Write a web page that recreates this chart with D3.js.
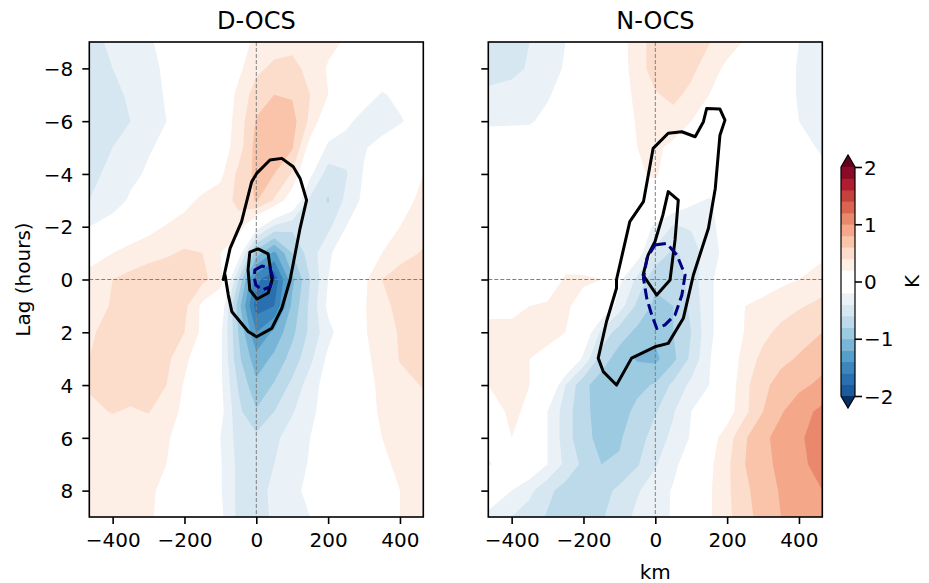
<!DOCTYPE html>
<html>
<head>
<meta charset="utf-8">
<script src="https://cdn.jsdelivr.net/npm/d3@7"></script>
<style>
  body { margin: 0; background: #fff; }
  text { font-family: "DejaVu Sans", sans-serif; fill: #000; }
</style>
</head>
<body>
<svg id="chart" width="929" height="583"></svg>
<script>
// grid coordinates of the anomaly fields
var kmCols = [-465, -400, -350, -300, -250, -200, -150, -100, -50, 0, 50, 100, 150, 200, 250, 300, 350, 400, 465];
var lagRows = [-9, -8, -7, -6, -5, -4, -3, -2, -1, 0, 1, 2, 3, 4, 5, 6, 7, 8, 9];

// contour levels (K) and their fill colours
var levels = [-2, -1.8, -1.6, -1.4, -1.2, -1, -0.8, -0.6, -0.4, -0.2, 0.2, 0.4, 0.6, 0.8, 1, 1.2, 1.4, 1.6, 1.8, 2];
var bandColors = ['#1b5a9b', '#2a6fb0', '#3a86bd', '#559fca', '#78b5d6', '#9ccae1', '#bcdaea', '#d6e7f1', '#eaf2f7',
                  '#ffffff', '#fdeee6', '#fcddcb', '#f9c4a9', '#f4a889', '#e9886c', '#d9654f', '#c6403d', '#b01d2e', '#8a0b25'];
var underColor = '#053061', overColor = '#67001f';
var cbarTicks = [-2, -1, 0, 1, 2];
var xTicks = [-400, -200, 0, 200, 400];
var yTicks = [-8, -6, -4, -2, 0, 2, 4, 6, 8];

// D-OCS temperature anomaly, one row per lag
var docsAnom = [
  [-0.45,-0.37,-0.3,-0.22,-0.15,-0.05,0,0.05,0.1,0.25,0.3,0.35,0.3,0.25,0.18,0.05,0,-0.05,-0.05],
  [-0.5,-0.4,-0.33,-0.25,-0.17,-0.08,0,0.05,0.15,0.35,0.45,0.45,0.35,0.18,0.08,0,-0.05,-0.05,-0.05],
  [-0.55,-0.45,-0.37,-0.28,-0.18,-0.1,-0.02,0.02,0.25,0.5,0.6,0.58,0.4,0.2,0.05,-0.1,-0.22,-0.15,-0.05],
  [-0.55,-0.48,-0.4,-0.3,-0.2,-0.1,-0.02,0.05,0.28,0.62,0.72,0.68,0.35,0,-0.15,-0.28,-0.3,-0.22,-0.1],
  [-0.5,-0.4,-0.33,-0.22,-0.15,-0.08,0,0.08,0.3,0.68,0.7,0.62,0.1,-0.25,-0.3,-0.22,-0.12,-0.05,0],
  [-0.45,-0.35,-0.25,-0.17,-0.1,-0.03,0.05,0.15,0.45,0.65,0.6,0.38,-0.15,-0.5,-0.42,-0.18,-0.05,0.08,0.2],
  [-0.4,-0.3,-0.17,-0.1,-0.02,0.12,0.25,0.3,0.45,0.62,0.38,0.05,-0.45,-0.62,-0.35,-0.15,0,0.12,0.25],
  [-0.2,-0.1,0,0.12,0.22,0.3,0.35,0.38,0.32,-0.1,-0.45,-0.55,-0.55,-0.45,-0.2,-0.05,0.08,0.2,0.32],
  [0.1,0.2,0.3,0.35,0.38,0.42,0.4,0.2,-0.05,-0.9,-1.25,-0.8,-0.5,-0.25,-0.02,0.08,0.2,0.32,0.42],
  [0.28,0.4,0.45,0.48,0.5,0.48,0.45,0.3,-0.6,-1.55,-1.75,-1.05,-0.6,-0.2,0.05,0.15,0.4,0.5,0.55],
  [0.3,0.42,0.5,0.52,0.5,0.45,0.15,0,-0.9,-1.7,-1.6,-0.95,-0.55,-0.15,0.05,0.18,0.35,0.45,0.5],
  [0.38,0.45,0.5,0.5,0.48,0.4,0.15,-0.15,-0.8,-1.4,-1.15,-0.85,-0.55,-0.27,-0.05,0.18,0.3,0.42,0.5],
  [0.4,0.48,0.5,0.48,0.45,0.25,0.05,-0.15,-0.75,-1.12,-0.95,-0.72,-0.45,-0.15,0,0.15,0.28,0.41,0.48],
  [0.42,0.48,0.48,0.45,0.4,0.18,0.05,-0.15,-0.62,-0.95,-0.78,-0.55,-0.3,-0.1,0,0.12,0.25,0.35,0.41],
  [0.36,0.41,0.38,0.41,0.3,0.15,0.05,-0.12,-0.55,-0.78,-0.6,-0.42,-0.25,-0.1,0,0.12,0.23,0.3,0.35],
  [0.3,0.3,0.3,0.28,0.22,0.12,0,-0.2,-0.48,-0.55,-0.45,-0.3,-0.2,-0.08,0,0.1,0.2,0.25,0.3],
  [0.28,0.28,0.27,0.25,0.2,0.1,0,-0.18,-0.45,-0.5,-0.4,-0.3,-0.18,-0.05,0,0.05,0.15,0.25,0.28],
  [0.25,0.25,0.25,0.22,0.17,0.08,0,-0.18,-0.45,-0.48,-0.35,-0.25,-0.15,-0.05,0,0.03,0.1,0.2,0.28],
  [0.25,0.25,0.25,0.22,0.15,0.05,0,-0.15,-0.45,-0.45,-0.38,-0.25,-0.2,-0.05,0,0,0.08,0.2,0.25]
];

// N-OCS temperature anomaly
var nocsAnom = [
  [-0.48,-0.45,-0.4,-0.3,-0.2,-0.1,-0.02,0.1,0.32,0.48,0.48,0.45,0.41,0.3,0.18,0.05,-0.05,-0.2,-0.25],
  [-0.5,-0.45,-0.38,-0.28,-0.18,-0.1,-0.02,0.1,0.3,0.5,0.5,0.45,0.3,0.15,0.05,-0.02,-0.1,-0.22,-0.28],
  [-0.35,-0.33,-0.3,-0.22,-0.12,-0.05,0,0.1,0.25,0.38,0.45,0.35,0.2,0.08,0,-0.05,-0.1,-0.22,-0.28],
  [-0.22,-0.22,-0.22,-0.15,-0.08,-0.03,0,0.08,0.22,0.3,0.32,0.2,0.1,0.05,0,-0.03,-0.08,-0.2,-0.24],
  [-0.12,-0.1,-0.08,-0.05,-0.03,0,0,0.05,0.2,0.24,0.15,0.08,0.03,0,0,-0.02,-0.05,-0.15,-0.22],
  [-0.05,-0.05,-0.03,0,0,0,0,0.05,0.18,0.22,0.1,0,-0.02,0,0,0,-0.02,-0.1,-0.16],
  [0,0,0,0,0,0,0,0.05,0.1,0.12,0,-0.15,-0.22,-0.1,0,0,0,0,0],
  [0,0,0,0,0.05,0.05,0.05,0.05,0,-0.25,-0.42,-0.38,-0.25,-0.12,-0.02,0,0,0.02,0.05],
  [0,0,0.02,0.08,0.12,0.1,0.15,0.08,-0.1,-0.45,-0.65,-0.5,-0.3,-0.12,-0.02,0,0.05,0.1,0.15],
  [0,0,0.02,0.1,0.22,0.22,0.2,-0.15,-0.45,-0.75,-0.78,-0.5,-0.25,-0.05,0.05,0.1,0.15,0.2,0.3],
  [0.18,0.18,0.2,0.22,0.22,0.15,0.05,-0.3,-0.65,-0.85,-0.8,-0.55,-0.25,-0.05,0.2,0.25,0.32,0.38,0.45],
  [0.22,0.22,0.22,0.22,0.2,0,-0.45,-0.7,-0.85,-0.95,-0.8,-0.6,-0.25,-0.05,0.22,0.35,0.45,0.52,0.6],
  [0.2,0.2,0.2,0.18,0.15,-0.25,-0.7,-0.9,-1.02,-1.05,-0.85,-0.55,-0.22,0.02,0.3,0.45,0.55,0.62,0.72],
  [0.2,0.22,0.2,0.1,-0.4,-0.75,-0.9,-0.92,-0.85,-0.78,-0.55,-0.35,-0.2,0.05,0.35,0.55,0.68,0.75,0.85],
  [0.15,0.22,0.18,-0.2,-0.5,-0.75,-0.88,-0.88,-0.75,-0.62,-0.42,-0.2,-0.05,0.1,0.35,0.6,0.78,0.92,1.05],
  [0.1,0.2,0.05,-0.2,-0.5,-0.75,-0.85,-0.82,-0.7,-0.5,-0.35,-0.18,0.1,0.3,0.58,0.75,0.88,0.97,1.1],
  [0.22,0.1,0,-0.2,-0.45,-0.65,-0.8,-0.78,-0.62,-0.42,-0.25,-0.08,0.15,0.36,0.6,0.74,0.85,0.95,1.08],
  [-0.05,-0.2,-0.35,-0.55,-0.68,-0.72,-0.68,-0.55,-0.42,-0.3,-0.18,-0.02,0.17,0.36,0.56,0.7,0.82,0.9,1],
  [-0.25,-0.4,-0.5,-0.62,-0.7,-0.7,-0.62,-0.5,-0.35,-0.28,-0.18,0,0.17,0.35,0.53,0.68,0.8,0.88,0.95]
];

// overlaid contour lines as [km, lag] vertices
var docsOuter = [[-92,0],[-73,-1.18],[-41,-2.19],[-13,-3.7],[1,-4.02],[38,-4.53],[71,-4.59],[103,-4.27],[122,-3.83],
  [140,-3.01],[122,-1.95],[94,0.02],[71,1.09],[43,1.85],[1,2.17],[-22,1.98],[-68,1.22],[-78,0.59],[-87,-0.17]];
var docsInner = [[-18,-1.04],[5,-1.16],[33,-0.97],[44,0.02],[33,0.51],[2,0.74],[-18,0.4],[-23,-0.36]];
var docsDashed = [[-4,-0.36],[16,-0.51],[38,-0.44],[46,-0.06],[38,0.28],[16,0.4],[-1,0.21],[-6,-0.09]];
var nocsOuter = [[-108,0],[-71,-2.19],[-33,-2.95],[-6,-4.97],[36,-5.54],[74,-5.6],[111,-5.41],[134,-5.98],[143,-6.48],
  [180,-6.46],[194,-6.04],[180,-5.47],[167,-3.45],[148,-1.94],[106,-0.17],[78,1.47],[36,2.42],[-1,2.55],[-66,2.98],
  [-108,4.0],[-145,3.49],[-159,2.98],[-136,1.6],[-108,0.33]];
var nocsInner = [[36,-3.33],[64,-3.01],[55,-1.5],[41,0.02],[4,0.59],[-34,-0.17],[-20,-0.93],[-1,-1.43],[21,-2.44]];
var nocsDashed = [[-1,-1.31],[32,-1.37],[60,-0.93],[83,-0.17],[74,0.59],[55,1.34],[27,1.72],[4,1.85],[-10,1.34],
  [-24,0.7],[-33,-0.05],[-23,-0.81]];

var svg = d3.select('#chart');
var plotTop = 42, plotBottom = 517, plotW = 334;
var nx = kmCols.length, ny = lagRows.length;
var colIdx = d3.scaleLinear().domain(d3.range(nx)).range(kmCols);
var rowIdx = d3.scaleLinear().domain(d3.range(ny)).range(lagRows);

var panels = [
  {title: 'D-OCS', left: 89.3, field: docsAnom, solid: [docsOuter, docsInner], dashed: [docsDashed], ylabels: true, xlabel: false},
  {title: 'N-OCS', left: 488.3, field: nocsAnom, solid: [nocsOuter, nocsInner], dashed: [nocsDashed], ylabels: false, xlabel: true}
];

panels.forEach(function(p, n) {
  var x = d3.scaleLinear().domain([-465, 465]).range([p.left, p.left + plotW]);
  var y = d3.scaleLinear().domain([-9, 9]).range([plotTop, plotBottom]);
  var g = svg.append('g');

  g.append('clipPath').attr('id', 'clip' + n)
    .append('rect').attr('x', p.left).attr('y', plotTop).attr('width', plotW).attr('height', plotBottom - plotTop);

  // grid coords from d3.contours -> km/lag -> pixels
  var path = d3.geoPath(d3.geoTransform({
    point: function(cx, cy) {
      var i = Math.max(0, Math.min(nx - 1, cx - 0.5));
      var j = Math.max(0, Math.min(ny - 1, cy - 0.5));
      this.stream.point(x(colIdx(i)), y(rowIdx(j)));
    }
  }));
  var contours = d3.contours().size([nx, ny]).thresholds(levels)(p.field.flat());

  var fills = g.append('g').attr('clip-path', 'url(#clip' + n + ')');
  fills.append('rect').attr('x', p.left).attr('y', plotTop).attr('width', plotW).attr('height', plotBottom - plotTop)
    .attr('fill', underColor);
  fills.selectAll('path').data(contours).enter().append('path')
    .attr('d', path)
    .attr('fill', function(d, k) { return k < bandColors.length ? bandColors[k] : overColor; });

  // zero lines
  g.append('line').attr('x1', x(0)).attr('x2', x(0)).attr('y1', plotTop).attr('y2', plotBottom)
    .attr('stroke', '#808080').attr('stroke-width', 1).attr('stroke-dasharray', '4,2');
  g.append('line').attr('x1', p.left).attr('x2', p.left + plotW).attr('y1', y(0)).attr('y2', y(0))
    .attr('stroke', '#808080').attr('stroke-width', 1).attr('stroke-dasharray', '4,2');

  var line = d3.line().x(function(d) { return x(d[0]); }).y(function(d) { return y(d[1]); }).curve(d3.curveLinearClosed);
  g.selectAll('path.solid').data(p.solid).enter().append('path').attr('class', 'solid')
    .attr('d', line).attr('fill', 'none').attr('stroke', '#000').attr('stroke-width', 3).attr('stroke-linejoin', 'round');
  g.selectAll('path.dash').data(p.dashed).enter().append('path').attr('class', 'dash')
    .attr('d', line).attr('fill', 'none').attr('stroke', '#000080').attr('stroke-width', 3).attr('stroke-dasharray', '11,5');

  // axes
  var xAxis = g.append('g').attr('transform', 'translate(0,' + plotBottom + ')')
    .call(d3.axisBottom(x).tickValues(xTicks).tickSize(7).tickPadding(9));
  var yAxis = g.append('g').attr('transform', 'translate(' + p.left + ',0)')
    .call(d3.axisLeft(y).tickValues(yTicks).tickSize(7).tickPadding(9));
  [xAxis, yAxis].forEach(function(a) {
    a.select('.domain').remove();
    a.selectAll('line').attr('stroke', '#000').attr('stroke-width', 1.6);
    a.selectAll('text').style('font-size', '20px').style('font-family', '"DejaVu Sans"');
  });
  yAxis.selectAll('text').attr('dy', '0.36em');
  if (!p.ylabels) yAxis.selectAll('text').remove();

  g.append('rect').attr('x', p.left).attr('y', plotTop).attr('width', plotW).attr('height', plotBottom - plotTop)
    .attr('fill', 'none').attr('stroke', '#000').attr('stroke-width', 1.6);

  g.append('text').attr('x', p.left + plotW / 2).attr('y', 29).attr('text-anchor', 'middle')
    .style('font-size', '24px').text(p.title);
  if (p.xlabel) {
    g.append('text').attr('x', p.left + plotW / 2).attr('y', 579).attr('text-anchor', 'middle')
      .style('font-size', '20px').text('km');
  }
});

svg.append('text').attr('transform', 'translate(30,' + (plotTop + plotBottom) / 2 + ') rotate(-90)')
  .attr('text-anchor', 'middle').style('font-size', '20px').text('Lag (hours)');

// colorbar
var cbX = 841, cbW = 14, cbTop = 167, cbBottom = 396, tri = 12;
var c = d3.scaleLinear().domain([-2, 2]).range([cbBottom, cbTop]);
var cb = svg.append('g');
cb.selectAll('rect').data(bandColors).enter().append('rect')
  .attr('x', cbX).attr('width', cbW)
  .attr('y', function(d, k) { return c(levels[k + 1]); })
  .attr('height', function(d, k) { return c(levels[k]) - c(levels[k + 1]) + 0.5; })
  .attr('fill', function(d) { return d; });
cb.append('path').attr('d', 'M' + cbX + ',' + cbTop + 'L' + (cbX + cbW / 2) + ',' + (cbTop - tri) + 'L' + (cbX + cbW) + ',' + cbTop + 'Z')
  .attr('fill', overColor);
cb.append('path').attr('d', 'M' + cbX + ',' + cbBottom + 'L' + (cbX + cbW / 2) + ',' + (cbBottom + tri) + 'L' + (cbX + cbW) + ',' + cbBottom + 'Z')
  .attr('fill', underColor);
cb.append('path')
  .attr('d', 'M' + cbX + ',' + cbTop + 'L' + (cbX + cbW / 2) + ',' + (cbTop - tri) + 'L' + (cbX + cbW) + ',' + cbTop +
    'L' + (cbX + cbW) + ',' + cbBottom + 'L' + (cbX + cbW / 2) + ',' + (cbBottom + tri) + 'L' + cbX + ',' + cbBottom + 'Z')
  .attr('fill', 'none').attr('stroke', '#000').attr('stroke-width', 1.2);
var cbAxis = cb.append('g').attr('transform', 'translate(' + (cbX + cbW) + ',0)')
  .call(d3.axisRight(c).tickValues(cbarTicks).tickSize(7).tickPadding(2).tickFormat(d3.format('d')));
cbAxis.select('.domain').remove();
cbAxis.selectAll('line').attr('stroke', '#000').attr('stroke-width', 1.6);
cbAxis.selectAll('text').style('font-size', '20px').style('font-family', '"DejaVu Sans"').attr('dy', '0.36em');
svg.append('text').attr('transform', 'translate(919,' + c(0) + ') rotate(-90)')
  .attr('text-anchor', 'middle').style('font-size', '20px').text('K');
</script>
</body>
</html>
